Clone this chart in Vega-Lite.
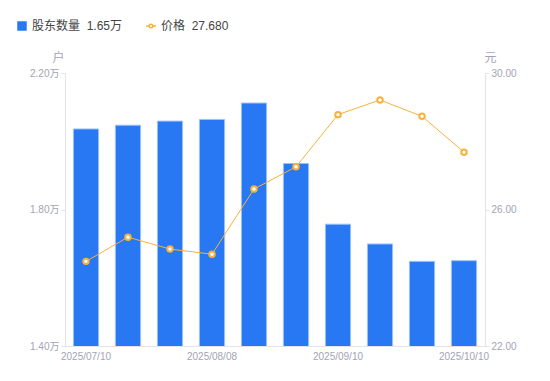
{
  "$schema": "https://vega.github.io/schema/vega-lite/v6.json",
  "width": 420,
  "height": 273,
  "autosize": {"type": "none"},
  "padding": {"left": 65, "top": 73, "right": 65, "bottom": 35},
  "config": {
    "font": "Liberation Sans, Noto Sans CJK SC, sans-serif",
    "view": {"stroke": null},
    "axis": {
      "grid": false,
      "domainColor": "#e3e3e8",
      "tickColor": "#e3e3e8",
      "labelColor": "#a3a3b5",
      "titleColor": "#a3a3b5",
      "labelFontSize": 10,
      "titleFontSize": 12,
      "titleFontWeight": "normal"
    },
    "legend": {
      "labelFontSize": 12,
      "labelColor": "#444444",
      "orient": "none",
      "direction": "horizontal"
    }
  },
  "data": {
    "values": [
      {"date": "2025/07/10", "holders": 2.036, "price": 24.48, "s1": "股东数量", "s2": "价格"},
      {"date": "2025/07/20", "holders": 2.047, "price": 25.19, "s1": "股东数量", "s2": "价格"},
      {"date": "2025/07/31", "holders": 2.059, "price": 24.84, "s1": "股东数量", "s2": "价格"},
      {"date": "2025/08/08", "holders": 2.064, "price": 24.69, "s1": "股东数量", "s2": "价格"},
      {"date": "2025/08/20", "holders": 2.112, "price": 26.60, "s1": "股东数量", "s2": "价格"},
      {"date": "2025/08/29", "holders": 1.935, "price": 27.25, "s1": "股东数量", "s2": "价格"},
      {"date": "2025/09/10", "holders": 1.757, "price": 28.78, "s1": "股东数量", "s2": "价格"},
      {"date": "2025/09/19", "holders": 1.699, "price": 29.21, "s1": "股东数量", "s2": "价格"},
      {"date": "2025/09/30", "holders": 1.648, "price": 28.73, "s1": "股东数量", "s2": "价格"},
      {"date": "2025/10/10", "holders": 1.65, "price": 27.68, "s1": "股东数量", "s2": "价格"}
    ]
  },
  "encoding": {
    "x": {
      "field": "date",
      "type": "ordinal",
      "sort": null,
      "scale": {"paddingInner": 0.4, "paddingOuter": 0.2},
      "axis": {
        "title": null,
        "labelAngle": 0,
        "ticks": false,
        "labelPadding": 5,
        "labelExpr": "indexof(['2025/07/10','2025/08/08','2025/09/10','2025/10/10'], datum.value) >= 0 ? datum.value : ''"
      }
    }
  },
  "layer": [
    {
      "mark": {"type": "bar", "stroke": "#9cc2fb", "strokeWidth": 1, "clip": true},
      "encoding": {
        "y": {
          "field": "holders",
          "type": "quantitative",
          "scale": {"domain": [1.4, 2.2], "zero": false},
          "axis": {
            "values": [1.4, 1.8, 2.2],
            "labelExpr": "format(datum.value, '.2f') + '万'",
            "title": "户",
            "titleAngle": 0,
            "titleX": -7,
            "titleY": -16,
            "titleBaseline": "middle",
            "titleAlign": "center",
            "tickSize": 4
          }
        },
        "color": {
          "field": "s1",
          "type": "nominal",
          "scale": {"range": ["#2778f2"]},
          "legend": {
            "title": null,
            "symbolType": "square",
            "symbolSize": 90,
            "symbolStrokeWidth": 0,
            "legendX": -49,
            "legendY": -53,
            "labelExpr": "datum.label + '\u00a0\u00a01.65万'"
          }
        }
      }
    },
    {
      "mark": {"type": "line", "color": "#f7b23b", "strokeWidth": 1, "point": {"filled": true, "fill": "#ffffff", "stroke": "#f7b23b", "strokeWidth": 2, "size": 30}},
      "encoding": {
        "y": {
          "field": "price",
          "type": "quantitative",
          "scale": {"domain": [22, 30], "zero": false},
          "axis": {
            "orient": "right",
            "values": [22, 26, 30],
            "format": ".2f",
            "title": "元",
            "titleAngle": 0,
            "titleX": 5,
            "titleY": -16,
            "titleBaseline": "middle",
            "titleAlign": "center",
            "tickSize": 4
          }
        },
        "stroke": {
          "field": "s2",
          "type": "nominal",
          "scale": {"range": ["#f7b23b"]},
          "legend": {
            "title": null,
            "symbolType": "M-1,0H-0.35M0.35,0H1M-0.35,0A0.35,0.35 0 1,0 0.35,0A0.35,0.35 0 1,0 -0.35,0",
            "symbolSize": 100,
            "symbolStrokeWidth": 1.5,
            "symbolFillColor": "#ffffff",
            "legendX": 80,
            "legendY": -53,
            "labelExpr": "datum.label + '\u00a0\u00a027.680'"
          }
        }
      }
    }
  ],
  "resolve": {"scale": {"y": "independent"}}
}
